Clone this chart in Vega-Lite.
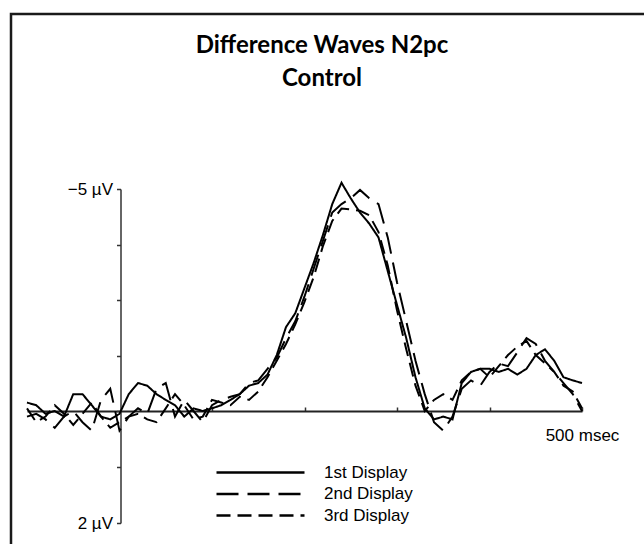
{
  "$schema": "https://vega.github.io/schema/vega-lite/v6.json",
  "autosize": "none",
  "padding": {"left": 11, "top": 14, "right": 0, "bottom": 0},
  "width": 640,
  "height": 540,
  "background": "white",
  "config": {
    "view": {"stroke": "#1a1a1a", "strokeWidth": 2.5},
    "font": "Liberation Sans"
  },
  "title": {
    "text": ["Difference Waves N2pc", "Control"],
    "font": "Lato",
    "fontWeight": "bold",
    "fontSize": 24,
    "lineHeight": 33,
    "color": "black",
    "anchor": "middle",
    "frame": "group",
    "baseline": "top",
    "offset": -77,
    "dx": -9
  },
  "data": {
    "values": [
      {"display": "1st Display", "t": -100, "v": -0.19},
      {"display": "1st Display", "t": -90, "v": -0.13},
      {"display": "1st Display", "t": -80, "v": 0.05},
      {"display": "1st Display", "t": -70, "v": 0.0},
      {"display": "1st Display", "t": -60, "v": 0.1},
      {"display": "1st Display", "t": -50, "v": -0.38},
      {"display": "1st Display", "t": -40, "v": -0.38},
      {"display": "1st Display", "t": -30, "v": -0.13},
      {"display": "1st Display", "t": -20, "v": 0.1},
      {"display": "1st Display", "t": -10, "v": 0.15},
      {"display": "1st Display", "t": 0, "v": 0.05},
      {"display": "1st Display", "t": 10, "v": -0.38},
      {"display": "1st Display", "t": 20, "v": -0.63},
      {"display": "1st Display", "t": 30, "v": -0.57},
      {"display": "1st Display", "t": 40, "v": -0.38},
      {"display": "1st Display", "t": 50, "v": -0.25},
      {"display": "1st Display", "t": 60, "v": -0.13},
      {"display": "1st Display", "t": 70, "v": 0.1},
      {"display": "1st Display", "t": 80, "v": -0.06},
      {"display": "1st Display", "t": 90, "v": 0.0},
      {"display": "1st Display", "t": 100, "v": -0.06},
      {"display": "1st Display", "t": 110, "v": -0.13},
      {"display": "1st Display", "t": 120, "v": -0.25},
      {"display": "1st Display", "t": 130, "v": -0.38},
      {"display": "1st Display", "t": 140, "v": -0.57},
      {"display": "1st Display", "t": 150, "v": -0.63},
      {"display": "1st Display", "t": 160, "v": -0.82},
      {"display": "1st Display", "t": 170, "v": -1.26},
      {"display": "1st Display", "t": 180, "v": -1.89},
      {"display": "1st Display", "t": 190, "v": -2.2},
      {"display": "1st Display", "t": 200, "v": -2.77},
      {"display": "1st Display", "t": 210, "v": -3.34},
      {"display": "1st Display", "t": 220, "v": -3.97},
      {"display": "1st Display", "t": 230, "v": -4.66},
      {"display": "1st Display", "t": 240, "v": -5.14},
      {"display": "1st Display", "t": 250, "v": -4.79},
      {"display": "1st Display", "t": 260, "v": -4.47},
      {"display": "1st Display", "t": 270, "v": -4.22},
      {"display": "1st Display", "t": 280, "v": -3.91},
      {"display": "1st Display", "t": 290, "v": -3.15},
      {"display": "1st Display", "t": 300, "v": -2.39},
      {"display": "1st Display", "t": 310, "v": -1.64},
      {"display": "1st Display", "t": 320, "v": -0.76},
      {"display": "1st Display", "t": 330, "v": -0.06},
      {"display": "1st Display", "t": 340, "v": 0.15},
      {"display": "1st Display", "t": 350, "v": 0.1},
      {"display": "1st Display", "t": 360, "v": 0.15},
      {"display": "1st Display", "t": 370, "v": -0.63},
      {"display": "1st Display", "t": 380, "v": -0.88},
      {"display": "1st Display", "t": 390, "v": -0.95},
      {"display": "1st Display", "t": 400, "v": -0.95},
      {"display": "1st Display", "t": 410, "v": -0.88},
      {"display": "1st Display", "t": 420, "v": -0.95},
      {"display": "1st Display", "t": 430, "v": -0.82},
      {"display": "1st Display", "t": 440, "v": -0.95},
      {"display": "1st Display", "t": 450, "v": -1.26},
      {"display": "1st Display", "t": 460, "v": -1.39},
      {"display": "1st Display", "t": 470, "v": -1.13},
      {"display": "1st Display", "t": 480, "v": -0.76},
      {"display": "1st Display", "t": 490, "v": -0.69},
      {"display": "1st Display", "t": 500, "v": -0.63},
      {"display": "2nd Display", "t": -100, "v": 0.1},
      {"display": "2nd Display", "t": -90, "v": 0.05},
      {"display": "2nd Display", "t": -80, "v": 0.15},
      {"display": "2nd Display", "t": -70, "v": 0.3},
      {"display": "2nd Display", "t": -60, "v": 0.1},
      {"display": "2nd Display", "t": -50, "v": 0.0},
      {"display": "2nd Display", "t": -40, "v": 0.2},
      {"display": "2nd Display", "t": -30, "v": 0.35},
      {"display": "2nd Display", "t": -20, "v": -0.25},
      {"display": "2nd Display", "t": -10, "v": -0.5},
      {"display": "2nd Display", "t": 0, "v": 0.35},
      {"display": "2nd Display", "t": 10, "v": 0.1},
      {"display": "2nd Display", "t": 20, "v": -0.06},
      {"display": "2nd Display", "t": 30, "v": 0.05},
      {"display": "2nd Display", "t": 40, "v": -0.5},
      {"display": "2nd Display", "t": 50, "v": -0.63},
      {"display": "2nd Display", "t": 60, "v": 0.1},
      {"display": "2nd Display", "t": 70, "v": -0.25},
      {"display": "2nd Display", "t": 80, "v": 0.0},
      {"display": "2nd Display", "t": 90, "v": 0.2},
      {"display": "2nd Display", "t": 100, "v": -0.13},
      {"display": "2nd Display", "t": 110, "v": -0.25},
      {"display": "2nd Display", "t": 120, "v": -0.32},
      {"display": "2nd Display", "t": 130, "v": -0.38},
      {"display": "2nd Display", "t": 140, "v": -0.63},
      {"display": "2nd Display", "t": 150, "v": -0.69},
      {"display": "2nd Display", "t": 160, "v": -0.95},
      {"display": "2nd Display", "t": 170, "v": -1.2},
      {"display": "2nd Display", "t": 180, "v": -1.64},
      {"display": "2nd Display", "t": 190, "v": -2.02},
      {"display": "2nd Display", "t": 200, "v": -2.58},
      {"display": "2nd Display", "t": 210, "v": -3.21},
      {"display": "2nd Display", "t": 220, "v": -3.84},
      {"display": "2nd Display", "t": 230, "v": -4.47},
      {"display": "2nd Display", "t": 240, "v": -4.66},
      {"display": "2nd Display", "t": 250, "v": -4.79},
      {"display": "2nd Display", "t": 260, "v": -4.98},
      {"display": "2nd Display", "t": 270, "v": -4.79},
      {"display": "2nd Display", "t": 280, "v": -4.66},
      {"display": "2nd Display", "t": 290, "v": -3.91},
      {"display": "2nd Display", "t": 300, "v": -2.9},
      {"display": "2nd Display", "t": 310, "v": -2.02},
      {"display": "2nd Display", "t": 320, "v": -1.13},
      {"display": "2nd Display", "t": 330, "v": -0.38},
      {"display": "2nd Display", "t": 340, "v": 0.2},
      {"display": "2nd Display", "t": 350, "v": 0.35},
      {"display": "2nd Display", "t": 360, "v": 0.1},
      {"display": "2nd Display", "t": 370, "v": -0.5},
      {"display": "2nd Display", "t": 380, "v": -0.69},
      {"display": "2nd Display", "t": 390, "v": -0.57},
      {"display": "2nd Display", "t": 400, "v": -0.88},
      {"display": "2nd Display", "t": 410, "v": -1.07},
      {"display": "2nd Display", "t": 420, "v": -1.01},
      {"display": "2nd Display", "t": 430, "v": -1.32},
      {"display": "2nd Display", "t": 440, "v": -1.64},
      {"display": "2nd Display", "t": 450, "v": -1.51},
      {"display": "2nd Display", "t": 460, "v": -1.13},
      {"display": "2nd Display", "t": 470, "v": -0.88},
      {"display": "2nd Display", "t": 480, "v": -0.63},
      {"display": "2nd Display", "t": 490, "v": -0.38},
      {"display": "2nd Display", "t": 500, "v": 0.0},
      {"display": "3rd Display", "t": -100, "v": -0.06},
      {"display": "3rd Display", "t": -90, "v": 0.2},
      {"display": "3rd Display", "t": -80, "v": 0.1},
      {"display": "3rd Display", "t": -70, "v": -0.13},
      {"display": "3rd Display", "t": -60, "v": 0.05},
      {"display": "3rd Display", "t": -50, "v": 0.25},
      {"display": "3rd Display", "t": -40, "v": 0.05},
      {"display": "3rd Display", "t": -30, "v": -0.19},
      {"display": "3rd Display", "t": -20, "v": 0.1},
      {"display": "3rd Display", "t": -10, "v": 0.3},
      {"display": "3rd Display", "t": 0, "v": 0.2},
      {"display": "3rd Display", "t": 10, "v": 0.1},
      {"display": "3rd Display", "t": 20, "v": 0.05},
      {"display": "3rd Display", "t": 30, "v": 0.15},
      {"display": "3rd Display", "t": 40, "v": 0.2},
      {"display": "3rd Display", "t": 50, "v": -0.06},
      {"display": "3rd Display", "t": 60, "v": -0.38},
      {"display": "3rd Display", "t": 70, "v": -0.13},
      {"display": "3rd Display", "t": 80, "v": 0.15},
      {"display": "3rd Display", "t": 90, "v": 0.1},
      {"display": "3rd Display", "t": 100, "v": -0.25},
      {"display": "3rd Display", "t": 110, "v": -0.19},
      {"display": "3rd Display", "t": 120, "v": -0.13},
      {"display": "3rd Display", "t": 130, "v": -0.32},
      {"display": "3rd Display", "t": 140, "v": -0.25},
      {"display": "3rd Display", "t": 150, "v": -0.44},
      {"display": "3rd Display", "t": 160, "v": -0.76},
      {"display": "3rd Display", "t": 170, "v": -1.13},
      {"display": "3rd Display", "t": 180, "v": -1.51},
      {"display": "3rd Display", "t": 190, "v": -1.95},
      {"display": "3rd Display", "t": 200, "v": -2.46},
      {"display": "3rd Display", "t": 210, "v": -3.02},
      {"display": "3rd Display", "t": 220, "v": -3.72},
      {"display": "3rd Display", "t": 230, "v": -4.28},
      {"display": "3rd Display", "t": 240, "v": -4.56},
      {"display": "3rd Display", "t": 250, "v": -4.54},
      {"display": "3rd Display", "t": 260, "v": -4.51},
      {"display": "3rd Display", "t": 270, "v": -4.41},
      {"display": "3rd Display", "t": 280, "v": -4.03},
      {"display": "3rd Display", "t": 290, "v": -3.28},
      {"display": "3rd Display", "t": 300, "v": -2.27},
      {"display": "3rd Display", "t": 310, "v": -1.39},
      {"display": "3rd Display", "t": 320, "v": -0.57},
      {"display": "3rd Display", "t": 330, "v": 0.0},
      {"display": "3rd Display", "t": 340, "v": -0.25},
      {"display": "3rd Display", "t": 350, "v": -0.38},
      {"display": "3rd Display", "t": 360, "v": -0.25},
      {"display": "3rd Display", "t": 370, "v": -0.69},
      {"display": "3rd Display", "t": 380, "v": -0.88},
      {"display": "3rd Display", "t": 390, "v": -0.95},
      {"display": "3rd Display", "t": 400, "v": -0.76},
      {"display": "3rd Display", "t": 410, "v": -1.01},
      {"display": "3rd Display", "t": 420, "v": -1.26},
      {"display": "3rd Display", "t": 430, "v": -1.45},
      {"display": "3rd Display", "t": 440, "v": -1.58},
      {"display": "3rd Display", "t": 450, "v": -1.26},
      {"display": "3rd Display", "t": 460, "v": -1.07},
      {"display": "3rd Display", "t": 470, "v": -0.88},
      {"display": "3rd Display", "t": 480, "v": -0.57},
      {"display": "3rd Display", "t": 490, "v": -0.44},
      {"display": "3rd Display", "t": 500, "v": -0.06}
    ]
  },
  "mark": {"type": "line", "color": "black", "strokeWidth": 2},
  "encoding": {
    "x": {
      "field": "t",
      "type": "quantitative",
      "scale": {"domain": [-100, 500], "range": [16, 571], "nice": false, "zero": false},
      "axis": {
        "orient": "bottom",
        "offset": -143,
        "title": null,
        "grid": false,
        "values": [100, 200, 300, 400, 500],
        "tickSize": -4,
        "tickWidth": 1.5,
        "tickColor": "#333",
        "domainColor": "#222",
        "domainWidth": 1.8,
        "labelExpr": "datum.value == 500 ? '500 msec' : ''",
        "labelFont": "Liberation Sans",
        "labelFontSize": 17,
        "labelColor": "black",
        "labelPadding": 20,
        "labelDx": -5,
        "labelFlush": false,
        "labelBound": false,
        "labelOverlap": false
      }
    },
    "y": {
      "field": "v",
      "type": "quantitative",
      "scale": {"domain": [-5, 0, 2], "range": [175, 397, 509], "nice": false, "zero": false},
      "axis": {
        "orient": "left",
        "offset": -109.5,
        "title": null,
        "grid": false,
        "values": [-5, -3.75, -2.5, -1.25, 0, 1, 2],
        "tickSize": 4,
        "tickWidth": 1.5,
        "tickColor": "#333",
        "domainColor": "#333",
        "domainWidth": 1.5,
        "labelExpr": "datum.value == -5 ? '−5 µV' : datum.value == 2 ? '2 µV' : ''",
        "labelFont": "Liberation Sans",
        "labelFontSize": 17,
        "labelColor": "black",
        "labelPadding": 4,
        "labelFlush": false,
        "labelBound": false,
        "labelOverlap": false
      }
    },
    "strokeDash": {
      "field": "display",
      "type": "nominal",
      "scale": {
        "domain": ["1st Display", "2nd Display", "3rd Display"],
        "range": [[1, 0], [22, 9], [14, 7]]
      },
      "legend": {
        "title": null,
        "orient": "none",
        "legendX": 237,
        "legendY": 446,
        "padding": 0,
        "symbolType": "M-4,0H4",
        "symbolSize": 484,
        "symbolStrokeWidth": 2.5,
        "symbolStrokeColor": "black",
        "symbolFillColor": "transparent",
        "labelOffset": 51,
        "labelFont": "Liberation Sans",
        "labelFontSize": 17,
        "labelColor": "black",
        "rowPadding": 0.5
      }
    }
  }
}
